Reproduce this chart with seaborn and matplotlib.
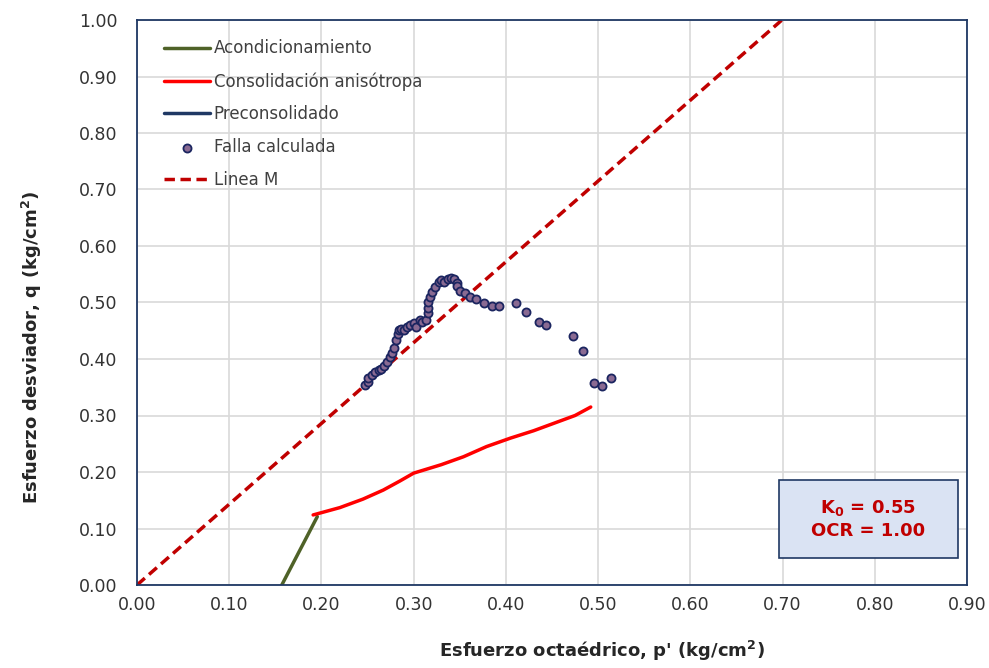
import numpy as np
import pandas as pd
import matplotlib
matplotlib.use("Agg")
import matplotlib.pyplot as plt
from matplotlib.patches import Rectangle
from matplotlib.ticker import MultipleLocator, FormatStrFormatter
import seaborn as sns

# stress path data (kg/cm2)
acond_p = [0.157, 0.1955]
acond_q = [0.000, 0.121]

consol_p = [0.191, 0.22, 0.245, 0.267, 0.285, 0.300, 0.33, 0.354, 0.379, 0.405, 0.43, 0.455, 0.475, 0.492]
consol_q = [0.124, 0.137, 0.152, 0.168, 0.184, 0.198, 0.213, 0.227, 0.245, 0.260, 0.273, 0.288, 0.300, 0.315]

pre_p = [0.247, 0.250, 0.251, 0.255, 0.258, 0.262, 0.265, 0.268, 0.271, 0.274, 0.276, 0.279,
         0.281, 0.283, 0.284, 0.286, 0.289, 0.293, 0.296, 0.300, 0.303, 0.307, 0.309, 0.313,
         0.316, 0.316, 0.316, 0.318, 0.320, 0.323, 0.327, 0.330, 0.333, 0.337, 0.340, 0.344,
         0.347, 0.347, 0.350, 0.356, 0.361, 0.368]
pre_q = [0.354, 0.360, 0.366, 0.372, 0.377, 0.380, 0.383, 0.388, 0.395, 0.403, 0.410, 0.420,
         0.434, 0.445, 0.451, 0.453, 0.451, 0.457, 0.460, 0.463, 0.457, 0.469, 0.466, 0.469,
         0.481, 0.490, 0.501, 0.510, 0.518, 0.528, 0.537, 0.540, 0.537, 0.541, 0.544, 0.541,
         0.535, 0.529, 0.521, 0.516, 0.510, 0.507]

tail_p = [0.376, 0.385, 0.393, 0.411, 0.422, 0.436, 0.443, 0.473, 0.484, 0.496, 0.504, 0.514]
tail_q = [0.499, 0.494, 0.494, 0.499, 0.483, 0.466, 0.460, 0.440, 0.414, 0.358, 0.352, 0.366]

falla_p = pre_p + tail_p
falla_q = pre_q + tail_q

M = 1.43
linea_p = [0.0, 0.9]

k0_text = "K$\\mathbf{_0}$ = 0.55\nOCR = 1.00"

sns.set_style("white")
plt.rcParams['font.family'] = ['DejaVu Sans']

fig = plt.figure(figsize=(9.89, 6.68), dpi=100)
ax = fig.add_axes([137 / 989, 1 - 585 / 668, 830 / 989, 565 / 668])

navy = "#1f3864"

df_a = pd.DataFrame({"p": acond_p, "q": acond_q})
df_c = pd.DataFrame({"p": consol_p, "q": consol_q})
df_pre = pd.DataFrame({"p": pre_p, "q": pre_q})
df_f = pd.DataFrame({"p": falla_p, "q": falla_q})
df_m = pd.DataFrame({"p": linea_p, "q": [M * v for v in linea_p]})

sns.lineplot(data=df_a, x="p", y="q", sort=False, color="#4f6228", lw=2.5, ax=ax, label="Acondicionamiento")
sns.lineplot(data=df_c, x="p", y="q", sort=False, color="#ff0000", lw=2.5, ax=ax, label="Consolidación anisótropa")
sns.lineplot(data=df_pre, x="p", y="q", sort=False, color=navy, lw=2.5, ax=ax, label="Preconsolidado")
sns.scatterplot(data=df_f, x="p", y="q", color="#8a6a92", edgecolor="#1b2560", linewidth=1.3, s=34,
                ax=ax, label="Falla calculada", zorder=4)
sns.lineplot(data=df_m, x="p", y="q", sort=False, color="#c00000", lw=2.5, ax=ax, label="Linea M",
             linestyle=(0, (3, 1.6)))

ax.set_xlim(0, 0.9)
ax.set_ylim(0, 1.0)
ax.xaxis.set_major_locator(MultipleLocator(0.1))
ax.yaxis.set_major_locator(MultipleLocator(0.1))
ax.xaxis.set_minor_locator(MultipleLocator(0.02))
ax.yaxis.set_minor_locator(MultipleLocator(0.02))
ax.xaxis.set_major_formatter(FormatStrFormatter("%.2f"))
ax.yaxis.set_major_formatter(FormatStrFormatter("%.2f"))
ax.grid(True, which="major", color="#d9d9d9", lw=1.2)
ax.set_axisbelow(True)
ax.tick_params(which="both", direction="in", length=5, width=1.2, color=navy,
               labelsize=12.5, labelcolor="#333333")
ax.tick_params(axis="x", pad=8)
ax.tick_params(axis="y", pad=14)
for s in ax.spines.values():
    s.set_color(navy)
    s.set_linewidth(1.3)

ax.set_xlabel("Esfuerzo octaédrico, p' (kg/cm$\\mathbf{^2}$)", fontsize=13, fontweight="bold")
ax.set_ylabel("Esfuerzo desviador, q (kg/cm$\\mathbf{^2}$)", fontsize=13, fontweight="bold")
ax.xaxis.set_label_coords(0.56, -0.095)
ax.yaxis.set_label_coords(-0.112, 0.42)

leg = ax.legend(loc="upper left", frameon=False, fontsize=12, handlelength=2.8, handletextpad=0.2,
                labelspacing=0.88, bbox_to_anchor=(0.012, 0.995), borderaxespad=0.6)
for t in leg.get_texts():
    t.set_color("#404040")

# parameter box
ax.add_patch(Rectangle((0.773, 0.048), 0.216, 0.138, transform=ax.transAxes,
                       facecolor="#dae3f3", edgecolor=navy, lw=1.2, zorder=5))
ax.text(0.881, 0.117, k0_text, transform=ax.transAxes, ha="center", va="center",
        fontsize=13, fontweight="bold", color="#c00000", linespacing=1.3, zorder=6)

fig.savefig("out.png", dpi=100)
